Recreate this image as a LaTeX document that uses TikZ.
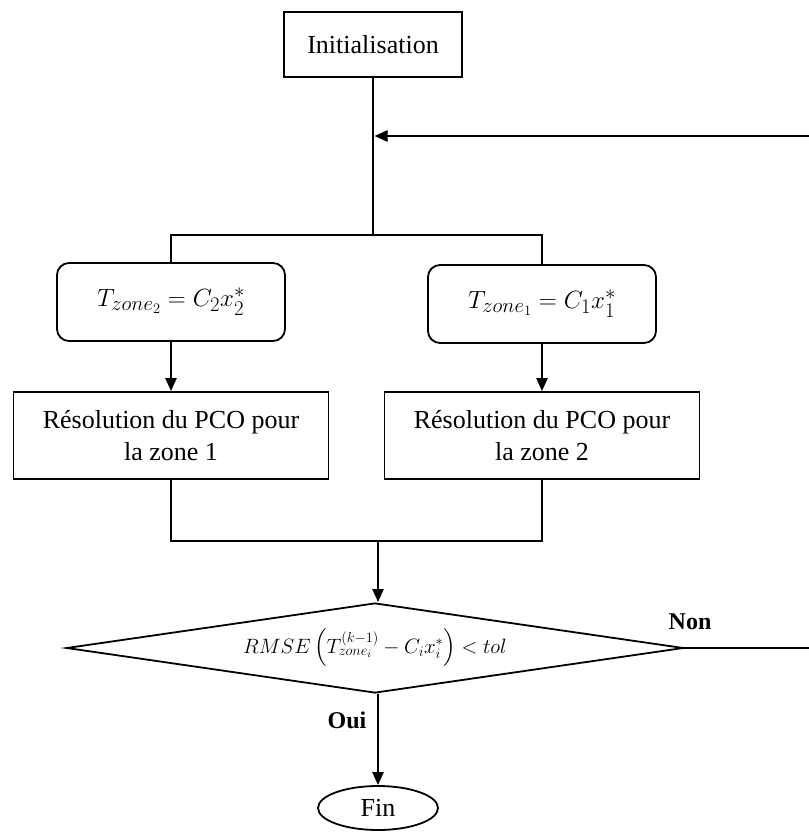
\documentclass[tikz,border=0pt]{standalone}
\usepackage{amsmath, amssymb}
\usepackage{fontspec}
\setmainfont{Liberation Serif}
\usepackage{tikz}
\usetikzlibrary{arrows.meta, positioning, shapes.geometric}

\begin{document}
\begin{tikzpicture}[
    x=1pt, y=-1pt,
    boite/.style={draw, line width=1.8pt, inner sep=0pt, align=center,
                  font=\fontsize{26}{32}\selectfont},
    eqbox/.style={boite, rounded corners=12pt, minimum width=228pt,
                  minimum height=78pt, font=\fontsize{30}{34}\selectfont},
    test/.style={draw, line width=1.8pt, shape=diamond, aspect=6.86,
                 minimum width=617pt, minimum height=90pt, inner sep=0pt,
                 font=\fontsize{21}{26}\selectfont},
    fin/.style={draw, line width=1.8pt, ellipse, minimum width=120pt,
                minimum height=44pt, inner sep=0pt,
                font=\fontsize{26}{30}\selectfont},
    arr/.style={-{Triangle[length=13pt, width=11pt]}, line width=2.2pt},
    lien/.style={line width=1.8pt},
    lab/.style={font=\fontsize{24}{28}\selectfont\bfseries}
  ]
  \useasboundingbox (0,0) rectangle (808,834);

  % initialisation
  \node[boite, minimum width=178pt, minimum height=65pt] (init) at (373,44.5)
    {Initialisation};
  \coordinate (retour) at (373,136);
  \coordinate (split) at (373,235);

  % les deux zones
  \node[eqbox] (eq2) at (171,302) {$T_{zone_2} = C_2 x_2^*$};
  \node[eqbox] (eq1) at (542,304) {$T_{zone_1} = C_1 x_1^*$};
  \node[boite, minimum width=315pt, minimum height=87pt] (res1) at (171,435.5)
    {R\'esolution du PCO pour\\la zone 1};
  \node[boite, minimum width=315pt, minimum height=87pt] (res2) at (542,435.5)
    {R\'esolution du PCO pour\\la zone 2};
  \coordinate (join) at (378,541);

  % test de convergence
  \node[test] (conv) at (375,648)
    {$RMSE\left(T_{zone_i}^{(k-1)} - C_i x_i^*\right) < tol$};
  \node[fin] (fin) at (378,808) {Fin};
  \node[lab] (non) at (690,622) {Non};
  \node[lab] (oui) at (347,720) {Oui};
  \coordinate (bord1) at (812,648);
  \coordinate (bord2) at (812,136);

  \draw[line width=2.4pt] (init.south) -- (split);
  \draw[lien] (eq2.north) |- (split) -| (eq1.north);
  \draw[arr] (eq2.south) -- (res1.north);
  \draw[arr] (eq1.south) -- (res2.north);
  \draw[lien] (res1.south) |- (join) -| (res2.south);
  \draw[arr] (join) -- (join |- conv.north);
  \draw[arr] (conv.south -| fin.north) -- (fin.north);
  \draw[arr] (conv.east) -- (bord1) -- (bord2) -- ([xshift=1.5pt]retour);
\end{tikzpicture}
\end{document}
